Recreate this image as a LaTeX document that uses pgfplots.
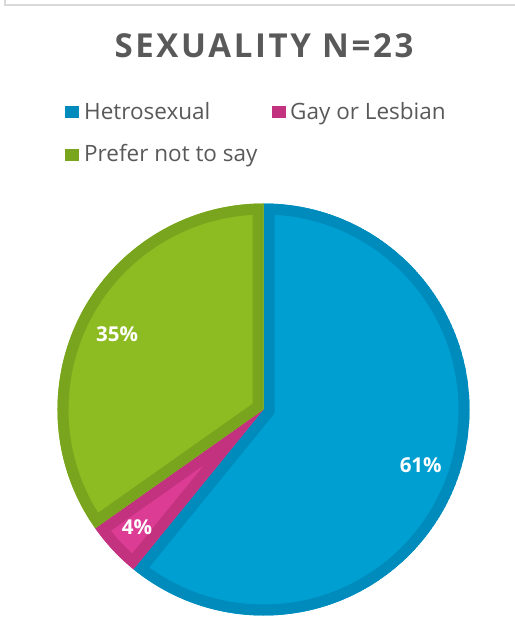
\documentclass[border=0pt]{standalone}
\usepackage{pgfplots}
\pgfplotsset{compat=1.18}
\usepackage{pgfplotstable}
\usepackage{fontspec}
\setmainfont{Open Sans}
\newfontfamily\titlefont[LetterSpace=8]{Open Sans}

\definecolor{txt}{HTML}{595959}
\definecolor{hetfill}{HTML}{009FD1}
\definecolor{hetline}{HTML}{008BBD}
\definecolor{gayfill}{HTML}{DC3C94}
\definecolor{gayline}{HTML}{C3327F}
\definecolor{prefill}{HTML}{8CBB22}
\definecolor{preline}{HTML}{79A41E}
\definecolor{frame}{HTML}{D9D9D9}

% counts out of N=23, shown percentage, label radius (fraction of R)
\pgfplotstableread{
group count pct lr
Hetrosexual 14 61 0.81
GayLesbian 1 4 0.84
PreferNot 8 35 0.80
}\sexuality

\newcommand\slice[4]{% start angle, end angle, fill, border
  \begin{scope}
    \clip (axis cs:263.5,233.5) -- ++(#1:206bp) arc[start angle=#1,end angle=#2,radius=206bp] -- cycle;
    \filldraw[fill=#3,draw=#4,line width=22bp]
      (axis cs:263.5,233.5) -- ++(#1:206bp) arc[start angle=#1,end angle=#2,radius=206bp] -- cycle;
  \end{scope}}

\newcommand\pielabel[3]{% mid angle, radius fraction, text
  \path (axis cs:263.5,233.5) ++(#1:#2*206bp)
    node[text=white,font=\fontsize{20.5bp}{24bp}\selectfont\bfseries,inner sep=0] {#3\%};}

\begin{document}
\begin{tikzpicture}
\useasboundingbox (0,0) rectangle (515bp,643bp);

\pgfplotstablegetelem{0}{count}\of\sexuality \let\cA\pgfplotsretval
\pgfplotstablegetelem{1}{count}\of\sexuality \let\cB\pgfplotsretval
\pgfplotstablegetelem{2}{count}\of\sexuality \let\cC\pgfplotsretval
\pgfplotstablegetelem{0}{pct}\of\sexuality \let\pA\pgfplotsretval
\pgfplotstablegetelem{1}{pct}\of\sexuality \let\pB\pgfplotsretval
\pgfplotstablegetelem{2}{pct}\of\sexuality \let\pC\pgfplotsretval
\pgfplotstablegetelem{0}{lr}\of\sexuality \let\lA\pgfplotsretval
\pgfplotstablegetelem{1}{lr}\of\sexuality \let\lB\pgfplotsretval
\pgfplotstablegetelem{2}{lr}\of\sexuality \let\lC\pgfplotsretval
\pgfmathsetmacro\tot{\cA+\cB+\cC}
\pgfmathsetmacro\aA{90}
\pgfmathsetmacro\aB{\aA-360*\cA/\tot}
\pgfmathsetmacro\aC{\aB-360*\cB/\tot}
\pgfmathsetmacro\aD{\aC-360*\cC/\tot}
\pgfmathsetmacro\mA{(\aA+\aB)/2}
\pgfmathsetmacro\mB{(\aB+\aC)/2}
\pgfmathsetmacro\mC{(\aC+\aD)/2}

\begin{axis}[
  at={(0,0)}, anchor=south west,
  scale only axis, x=1bp, y=1bp,
  xmin=0, xmax=515, ymin=0, ymax=643,
  hide axis, clip=false,
]
\pgfplotsextra{
  % chart frame (top and left edges only)
  \draw[frame,line width=2bp] (axis cs:5,643) -- (axis cs:5,637.5) -- (axis cs:515,637.5);
  % title
  \node[anchor=base,text=txt,inner sep=0,font=\titlefont\fontsize{33bp}{38bp}\selectfont\bfseries]
    at (axis cs:264,585.7) {SEXUALITY N=23};
  % legend
  \fill[hetline] (axis cs:65,525) rectangle (axis cs:79,537);
  \fill[gayline] (axis cs:272,525) rectangle (axis cs:286,537);
  \fill[preline] (axis cs:65,482) rectangle (axis cs:79,494);
  \node[anchor=base west,text=txt,inner sep=0,font=\fontsize{22.5bp}{26bp}\selectfont]
    at (axis cs:84,523.7) {Hetrosexual};
  \node[anchor=base west,text=txt,inner sep=0,font=\fontsize{22.5bp}{26bp}\selectfont]
    at (axis cs:290,523.7) {Gay or Lesbian};
  \node[anchor=base west,text=txt,inner sep=0,font=\fontsize{22.5bp}{26bp}\selectfont]
    at (axis cs:84,481.7) {Prefer not to say};
  % pie
  \slice{\aA}{\aB}{hetfill}{hetline}
  \slice{\aB}{\aC}{gayfill}{gayline}
  \slice{\aC}{\aD}{prefill}{preline}
  \pielabel{\mA}{\lA}{\pA}
  \pielabel{\mB}{\lB}{\pB}
  \pielabel{\mC}{\lC}{\pC}
}
\end{axis}
\end{tikzpicture}
\end{document}
